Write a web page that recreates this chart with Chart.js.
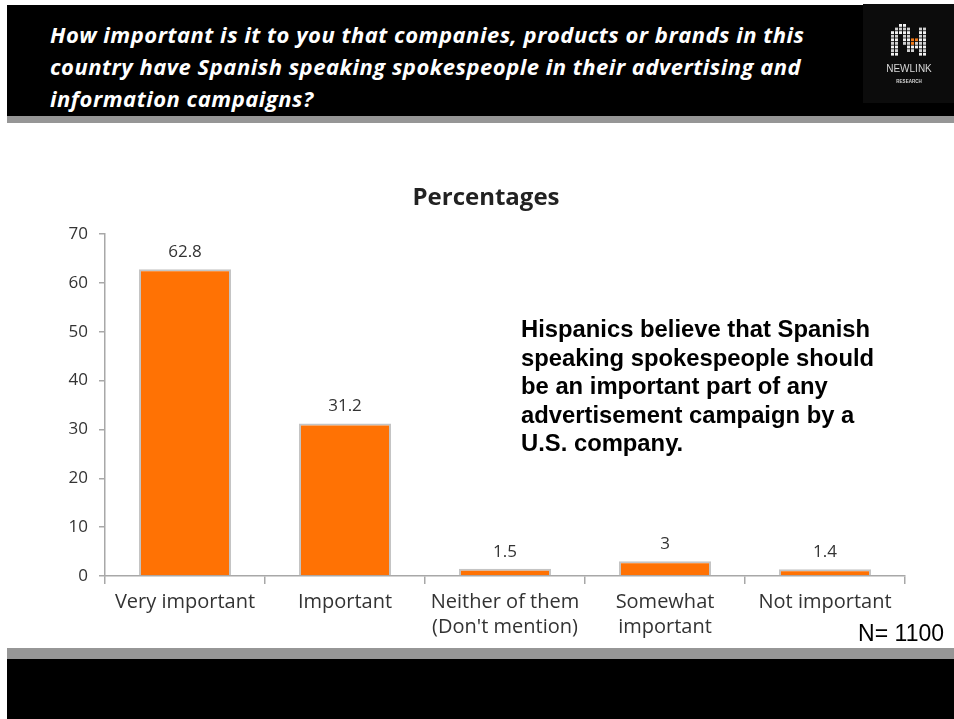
<!DOCTYPE html>
<html>
<head>
<meta charset="utf-8">
<script src="https://cdn.jsdelivr.net/npm/chart.js@4"></script>
<style>
  body { margin: 0; background: #fff; width: 954px; height: 719px; overflow: hidden; position: relative; font-family: 'Liberation Sans', Arial, sans-serif; }
  .header { position: absolute; left: 7px; top: 5px; width: 947px; height: 111px; background: #000; }
  .header-strip { position: absolute; left: 7px; top: 116px; width: 947px; height: 7px; background: #969696; }
  .question { position: absolute; left: 50px; top: 18px; width: 820px; color: #fff; white-space: nowrap; font: italic bold 22px/32px 'Open Sans', Lato, sans-serif; letter-spacing: 0.5px; }
  .logo-box { position: absolute; left: 863px; top: 4px; width: 91px; height: 99px; background: #0c0c0c; }
  #logo { position: absolute; left: 0; top: 0; }
  .chart-wrap { position: absolute; left: 0; top: 130px; width: 954px; height: 510px; }
  .note { position: absolute; left: 521px; top: 315px; color: #000; white-space: nowrap; font: bold 23.8px/28.5px 'Liberation Sans', Arial, sans-serif; }
  .sample { position: absolute; right: 10px; top: 620px; color: #000; font: 23px 'Liberation Sans', Arial, sans-serif; }
  .footer-strip { position: absolute; left: 7px; top: 648px; width: 947px; height: 11px; background: #969696; }
  .footer { position: absolute; left: 7px; top: 659px; width: 947px; height: 60px; background: #000; }
</style>
</head>
<body>
<div class="header"></div>
<div class="header-strip"></div>
<div class="question">How important is it to you that companies, products or brands in this<br>country have Spanish speaking spokespeople in their advertising and<br>information campaigns?</div>
<div class="logo-box"><canvas id="logo" width="91" height="99"></canvas></div>

<div class="chart-wrap"><canvas id="answers-chart"></canvas></div>

<div class="note">Hispanics believe that Spanish<br>speaking spokespeople should<br>be an important part of any<br>advertisement campaign by a<br>U.S. company.</div>
<div class="sample">N= 1100</div>
<div class="footer-strip"></div>
<div class="footer"></div>

<script>
const categories = [
    'Very important',
    'Important',
    ['Neither of them', "(Don't mention)"],
    ['Somewhat', 'important'],
    'Not important'
];
const percentages = [62.8, 31.2, 1.5, 3, 1.4];
const yTicks = [0, 10, 20, 30, 40, 50, 60, 70];

const chartFont = "'Open Sans', Lato, sans-serif";

// little dotted logo mark
function drawLogo() {
    const ctx = document.getElementById('logo').getContext('2d');
    const rows = [
        '..xx.....',
        '.xxxx..xx',
        'xxxxx..xx',
        'xx.xx..xx',
        'xx.xxooxx',
        'xx.xxoxxx',
        'xx..xxxxx',
        'xx..xx.xx',
        'xx.....xx'
    ];
    rows.forEach((row, r) => {
        [...row].forEach((c, i) => {
            if (c === '.') return;
            ctx.fillStyle = c === 'o' ? '#f07a1a' : (r % 2 ? '#cfcfcf' : '#f2f2f2');
            ctx.fillRect(28 + i * 4, 20 + r * 3.6, 3, 2.8);
        });
    });
    ctx.fillStyle = '#d8d8d8';
    ctx.font = "10px 'Liberation Sans', Arial, sans-serif";
    ctx.textAlign = 'center';
    ctx.fillText('NEWLINK', 46, 68);
    ctx.font = "bold 4.5px 'Liberation Sans', Arial, sans-serif";
    ctx.fillText('RESEARCH', 46, 79);
}
drawLogo();

// values printed above each bar
const valueLabels = {
    id: 'valueLabels',
    afterDatasetsDraw(chart) {
        const ctx = chart.ctx;
        const meta = chart.getDatasetMeta(0);
        ctx.save();
        ctx.fillStyle = '#333';
        ctx.font = '17px ' + chartFont;
        ctx.textAlign = 'center';
        ctx.textBaseline = 'middle';
        meta.data.forEach((bar, i) => {
            ctx.fillText(String(percentages[i]), bar.x, bar.y - 17);
        });
        ctx.restore();
    }
};

new Chart(document.getElementById('answers-chart'), {
    type: 'bar',
    data: {
        labels: categories,
        datasets: [{
            data: percentages,
            backgroundColor: '#ff7204',
            borderColor: '#c4c4c4',
            borderWidth: 2,
            categoryPercentage: 1,
            barPercentage: 0.575
        }]
    },
    options: {
        responsive: true,
        maintainAspectRatio: false,
        animation: false,
        layout: { padding: { top: 54, left: 67, right: 49, bottom: 0 } },
        plugins: {
            legend: { display: false },
            tooltip: { enabled: false },
            title: {
                display: true,
                text: 'Percentages',
                color: '#222',
                font: { family: chartFont, size: 24, weight: 'bold' },
                padding: { top: 0, bottom: 21.2 }
            }
        },
        scales: {
            x: {
                afterFit: scale => { scale.height = 64; },
                border: { color: '#a8a8a8', width: 1.5 },
                grid: { offset: true, drawOnChartArea: false, color: '#a8a8a8', tickLength: 8, lineWidth: 1.5 },
                ticks: { color: '#333', padding: 6, font: { family: chartFont, size: 20, lineHeight: 1.25 }, maxRotation: 0 }
            },
            y: {
                min: 0,
                max: 70,
                afterFit: scale => { scale.width = 38; },
                afterBuildTicks: scale => { scale.ticks = yTicks.map(v => ({ value: v })); },
                border: { color: '#a8a8a8', width: 1.5 },
                grid: { drawOnChartArea: false, color: '#a8a8a8', tickLength: 6, lineWidth: 1.5 },
                ticks: { color: '#333', padding: 11, font: { family: chartFont, size: 17 } }
            }
        }
    },
    plugins: [valueLabels]
});
</script>
</body>
</html>
